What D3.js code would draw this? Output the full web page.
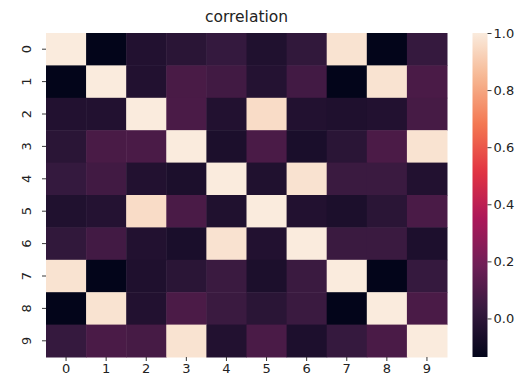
<!DOCTYPE html>
<html>
<head>
<meta charset="utf-8">
<script src="https://cdn.jsdelivr.net/npm/d3@7"></script>
<style>
  body { margin: 0; background: #fff; }
  svg { font-family: "DejaVu Sans", sans-serif; }
</style>
</head>
<body>
<div id="chart"></div>
<script>
const labels = ["0", "1", "2", "3", "4", "5", "6", "7", "8", "9"];
const title = "correlation";
const row0 = [1.000, -0.135, -0.035, -0.008, 0.025, -0.040, 0.015, 0.975, -0.135, 0.027];
const row1 = [-0.135, 1.000, -0.035, 0.082, 0.060, -0.028, 0.064, -0.135, 0.975, 0.085];
const row2 = [-0.035, -0.035, 1.000, 0.085, -0.035, 0.955, -0.035, -0.045, -0.035, 0.073];
const row3 = [-0.008, 0.082, 0.085, 1.000, -0.055, 0.085, -0.060, -0.008, 0.088, 0.975];
const row4 = [0.025, 0.060, -0.035, -0.055, 1.000, -0.040, 0.972, 0.041, 0.041, -0.035];
const row5 = [-0.040, -0.028, 0.955, 0.085, -0.040, 1.000, -0.035, -0.055, -0.008, 0.085];
const row6 = [0.015, 0.064, -0.035, -0.060, 0.972, -0.035, 1.000, 0.041, 0.041, -0.050];
const row7 = [0.975, -0.135, -0.045, -0.008, 0.041, -0.055, 0.041, 1.000, -0.135, 0.027];
const row8 = [-0.135, 0.975, -0.035, 0.088, 0.041, -0.008, 0.041, -0.135, 1.000, 0.085];
const row9 = [0.027, 0.085, 0.073, 0.975, -0.035, 0.085, -0.050, 0.027, 0.085, 1.000];
const matrix = [row0, row1, row2, row3, row4, row5, row6, row7, row8, row9];
const cbarTicks = [0.0, 0.2, 0.4, 0.6, 0.8, 1.0];

// seaborn "rocket" sampled
const rocket = ["#03051a", "#35193e", "#701f57", "#ad1759", "#e13342", "#f37651", "#f6b48f", "#faebdd"];

const W = 526, H = 381;
const plot = {left: 46, top: 33, right: 447, bottom: 357};
const cbar = {left: 472.5, width: 15};

const svg = d3.select("#chart").append("svg")
    .attr("width", W)
    .attr("height", H);

const cells = matrix.flatMap((row, i) => row.map((v, j) => ({i, j, v})));
const vmin = d3.min(cells, d => d.v);
const vmax = d3.max(cells, d => d.v);

const tScale = d3.scaleLinear().domain([vmin, vmax]).range([0, 1]);
const interp = d3.scaleLinear()
    .domain(rocket.map((c, k) => k / (rocket.length - 1)))
    .range(rocket)
    .interpolate(d3.interpolateRgb);
const colour = v => interp(tScale(v));

const x = d3.scaleBand().domain(labels).range([plot.left, plot.right]);
const y = d3.scaleBand().domain(labels).range([plot.top, plot.bottom]);

svg.append("g")
    .selectAll("rect")
    .data(cells)
    .enter().append("rect")
    .attr("x", d => x(labels[d.j]))
    .attr("y", d => y(labels[d.i]))
    .attr("width", x.bandwidth() + 0.5)
    .attr("height", y.bandwidth() + 0.5)
    .attr("fill", d => colour(d.v));

// x axis
const xAxis = svg.append("g")
    .attr("transform", "translate(0," + plot.bottom + ")")
    .call(d3.axisBottom(x).tickSize(4).tickPadding(3));
xAxis.select(".domain").remove();
xAxis.selectAll("text").attr("font-size", 13).attr("fill", "#222").attr("font-family", "DejaVu Sans");
xAxis.selectAll("line").attr("stroke", "#222").attr("stroke-width", 0.9);

// y axis (labels rotated like seaborn)
const yAxis = svg.append("g")
    .attr("transform", "translate(" + plot.left + ",0)")
    .call(d3.axisLeft(y).tickSize(4).tickPadding(3));
yAxis.select(".domain").remove();
yAxis.selectAll("line").attr("stroke", "#222").attr("stroke-width", 0.9);
yAxis.selectAll("text")
    .attr("font-size", 13)
    .attr("fill", "#222")
    .attr("font-family", "DejaVu Sans")
    .attr("x", null)
    .attr("text-anchor", "middle")
    .attr("transform", "translate(-20,0) rotate(-90)")
    .attr("dy", "0.35em");

// title
svg.append("text")
    .attr("x", (plot.left + plot.right) / 2)
    .attr("y", 22)
    .attr("text-anchor", "middle")
    .attr("font-size", 15.5)
    .attr("fill", "#222")
    .text(title);

// colorbar
const cy = d3.scaleLinear().domain([vmin, vmax]).range([plot.bottom, plot.top]);
const grad = svg.append("defs").append("linearGradient")
    .attr("id", "cbar")
    .attr("x1", 0).attr("y1", 1).attr("x2", 0).attr("y2", 0);
grad.selectAll("stop")
    .data(d3.range(0, 1.0001, 0.02))
    .enter().append("stop")
    .attr("offset", d => d)
    .attr("stop-color", d => interp(d));

svg.append("rect")
    .attr("x", cbar.left)
    .attr("y", plot.top)
    .attr("width", cbar.width)
    .attr("height", plot.bottom - plot.top)
    .attr("fill", "url(#cbar)");

const cAxis = svg.append("g")
    .attr("transform", "translate(" + (cbar.left + cbar.width) + ",0)")
    .call(d3.axisRight(cy).tickValues(cbarTicks).tickFormat(d3.format(".1f")).tickSize(4).tickPadding(2));
cAxis.select(".domain").remove();
cAxis.selectAll("line").attr("stroke", "#222").attr("stroke-width", 0.9);
cAxis.selectAll("text").attr("font-size", 13).attr("fill", "#222").attr("font-family", "DejaVu Sans");
</script>
</body>
</html>
